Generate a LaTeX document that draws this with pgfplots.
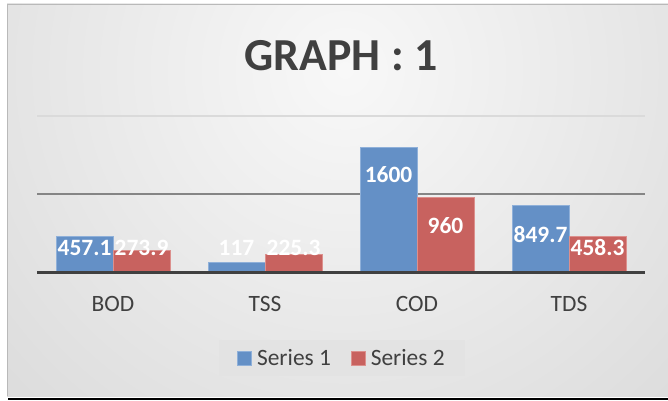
\documentclass[border=0pt]{standalone}
\usepackage{pgfplots}
\pgfplotsset{compat=1.18}
\usepackage{fontspec}
\setmainfont{Carlito}
\definecolor{bblue}{HTML}{6490C6}
\definecolor{bblueb}{HTML}{8FB0D9}
\definecolor{bred}{HTML}{C8625F}
\definecolor{bredb}{HTML}{DC908D}
\definecolor{tgray}{HTML}{404040}
\definecolor{gridd}{HTML}{858585}
\definecolor{gridl}{HTML}{DADADA}
\definecolor{bginner}{HTML}{F8F8F8}
\definecolor{bgouter}{HTML}{C4C4C4}
\definecolor{legfill}{HTML}{E3E3E3}
\begin{document}
\begin{tikzpicture}[x=1bp,y=1bp]
\useasboundingbox (0,0) rectangle (668,400);
\begin{scope}
\clip (7,4) rectangle (668,396);
\shade[inner color=bginner, outer color=bgouter] (345,330) circle (880);
\end{scope}
\draw[gray!55, line width=0.8bp] (7,4) -- (7,396) -- (668,396);
\draw[black, line width=1.6bp] (8,1) -- (668,1);
\node[anchor=base, font=\bfseries\fontsize{46}{46}\selectfont, text=tgray] at (341,330) {GRAPH : 1};
\begin{axis}[
  at={(37bp,128bp)}, anchor=south west,
  scale only axis, width=608bp, height=156bp,
  xmin=-0.5, xmax=3.5, ymin=0, ymax=2000,
  axis line style={draw=none},
  xtick={0,1,2,3}, xticklabels={BOD,TSS,COD,TDS},
  ytick={1000}, yticklabels={},
  extra y ticks={2000}, extra y tick labels={},
  extra y tick style={ymajorgrids=true, major grid style={color=gridl, line width=1.2bp}},
  ymajorgrids, major grid style={color=gridd, line width=1.2bp},
  tick style={draw=none},
  xticklabel style={anchor=base, yshift=-39bp, font=\fontsize{23.5}{23.5}\selectfont, text=tgray},
  clip=false,
  legend style={at={(0.5016,-0.551)}, anchor=center, legend columns=2,
    fill=legfill, draw=none,
    inner xsep=18bp, inner ysep=7bp,
    font=\fontsize{23.5}{23.5}\selectfont, text=tgray,
    /tikz/every odd column/.append style={column sep=3bp},
    /tikz/every even column/.append style={column sep=18bp}},
  legend image code/.code={\draw[#1, line width=0.8bp] (0bp,-7bp) rectangle (14bp,7bp);},
]
\addplot[ybar, bar width=0.375, bar shift=-0.1875, fill=bblue, draw=bblueb, line width=0.8bp]
  coordinates {(0,457.1) (1,117) (2,1600) (3,849.7)};
\addlegendentry{Series 1}
\addplot[ybar, bar width=0.375, bar shift=0.1875, fill=bred, draw=bredb, line width=0.8bp]
  coordinates {(0,273.9) (1,225.3) (2,960) (3,458.3)};
\addlegendentry{Series 2}
\draw[line width=3bp, color=tgray] (axis cs:-0.5,0) -- (axis cs:3.5,0);
\addplot[draw=none, mark=none, forget plot, nodes near coords, point meta=explicit symbolic,
  nodes near coords style={anchor=center, text=white, font=\bfseries\fontsize{23.5}{23.5}\selectfont}]
  coordinates {(-0.1875,314)[457.1] (0.8125,308)[117] (1.8125,1244)[1600] (2.8125,487)[849.7]};
\addplot[draw=none, mark=none, forget plot, nodes near coords, point meta=explicit symbolic,
  nodes near coords style={anchor=center, text=white, font=\bfseries\fontsize{23.5}{23.5}\selectfont}]
  coordinates {(0.1875,308)[273.9] (1.1875,308)[225.3] (2.1875,590)[960] (3.1875,308)[458.3]};
\end{axis}
\end{tikzpicture}
\end{document}
